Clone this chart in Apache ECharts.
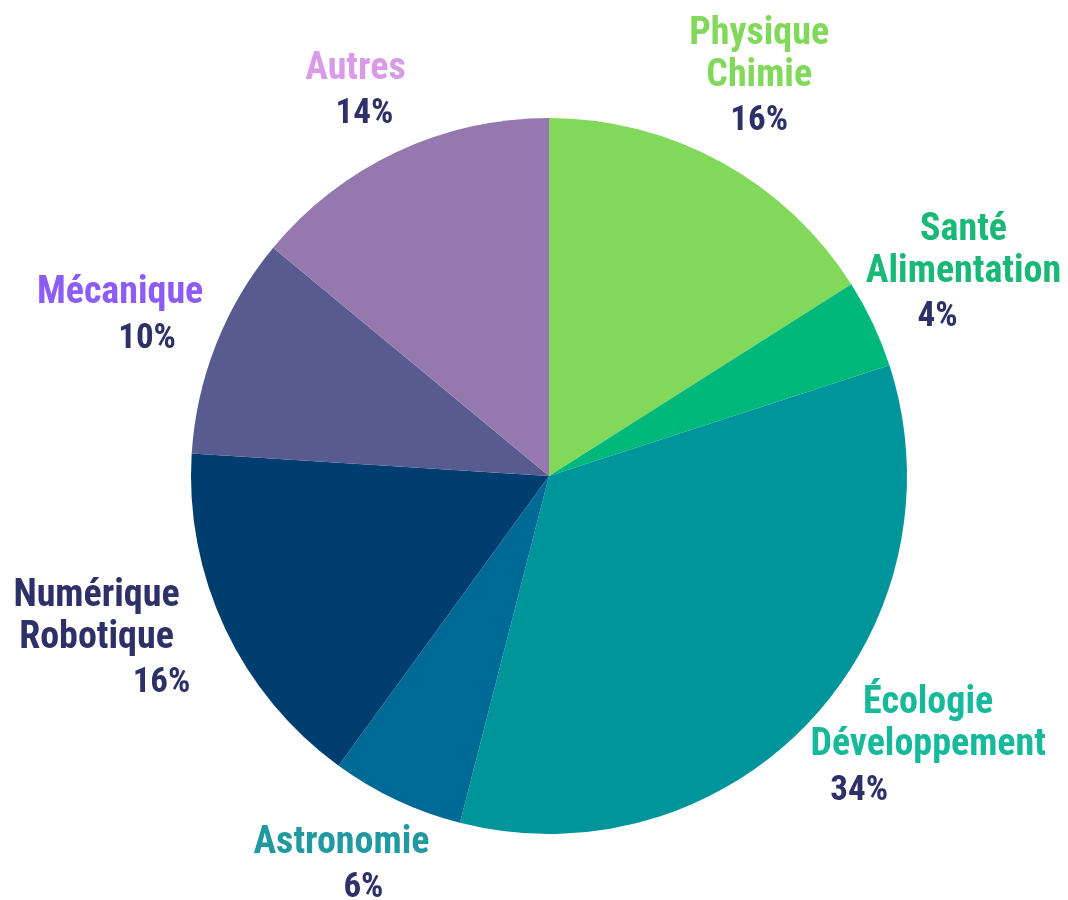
<!DOCTYPE html>
<html>
<head>
<meta charset="utf-8">
<script src="https://cdn.jsdelivr.net/npm/echarts@6/dist/echarts.min.js"></script>
<style>
  html, body { margin: 0; padding: 0; background: #fff; }
  #pie { width: 1068px; height: 900px; }
</style>
</head>
<body>
<div id="pie"></div>
<script>
// données
var labels = [['Physique', 'Chimie'], ['Santé', 'Alimentation'], ['Écologie', 'Développement'], ['Astronomie'], ['Numérique', 'Robotique'], ['Mécanique'], ['Autres']];
var values = [16, 4, 34, 6, 16, 10, 14];
var sliceColors = ['#82d85a', '#00b87a', '#00959b', '#006a96', '#003e6f', '#585b8f', '#9578ae'];
var nameColors = ['#82d85a', '#19b877', '#17b99b', '#2199a0', '#2e3168', '#8c5cf5', '#d79be8'];
// décalage du pourcentage sous le nom, et petits ajustements des étiquettes
var pctShift = [0, -26, -69, 22, 65, 27, 9];
var labelOffsets = [[-10, 1], [1, -9], [46, -43], [-13, -25], [-39, -32], [-4, 7], [1, 28]];

var font = '"Roboto Condensed", "DejaVu Sans Condensed", sans-serif';
var rich = {};
labels.forEach(function (l, i) {
  rich['n' + i] = { color: nameColors[i], fontSize: 38, lineHeight: 42, fontWeight: 'bold', fontFamily: font };
  var s = pctShift[i];
  rich['p' + i] = {
    color: '#2e3168', fontSize: 35, lineHeight: 42, fontWeight: 'bold', fontFamily: font,
    padding: [6, s < 0 ? -2 * s : 0, 0, s > 0 ? 2 * s : 0]
  };
});

var sliceData = values.map(function (v, i) {
  return { name: labels[i].join(' '), value: v, itemStyle: { color: sliceColors[i] } };
});
var labelData = values.map(function (v, i) {
  return {
    name: labels[i].join(' '), value: v,
    label: { offset: labelOffsets[i] }
  };
});

var chart = echarts.init(document.getElementById('pie'));
chart.setOption({
  animation: false,
  series: [
    {
      type: 'pie',
      center: [549, 476],
      radius: [0, 358],
      startAngle: 90,
      clockwise: true,
      silent: true,
      label: { show: false },
      labelLine: { show: false },
      itemStyle: { borderWidth: 0 },
      data: sliceData
    },
    {
      // série invisible qui porte les étiquettes
      type: 'pie',
      center: [549, 476],
      radius: [0, 908],
      startAngle: 90,
      clockwise: true,
      silent: true,
      itemStyle: { color: 'rgba(0,0,0,0)' },
      labelLine: { show: false },
      label: {
        show: true,
        position: 'inside',
        formatter: function (p) {
          var i = p.dataIndex;
          var s = labels[i].map(function (t) { return '{n' + i + '|' + t + '}'; }).join('\n');
          return s + '\n{p' + i + '|' + p.value + '%}';
        },
        rich: rich
      },
      data: labelData
    }
  ]
});
</script>
</body>
</html>
